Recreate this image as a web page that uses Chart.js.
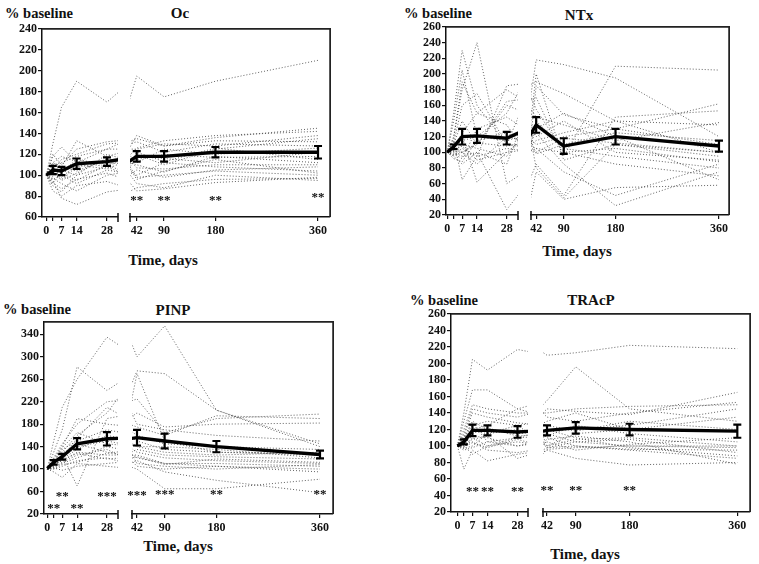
<!DOCTYPE html>
<html>
<head>
<meta charset="utf-8">
<script src="https://cdn.jsdelivr.net/npm/chart.js@4.4.1/dist/chart.umd.min.js"></script>
<style>
  html, body { margin: 0; padding: 0; background: #fff; }
  #page { position: relative; width: 759px; height: 564px; overflow: hidden;
          font-family: "Liberation Serif", "Times New Roman", serif; font-weight: bold; color: #111; }
  #page canvas { position: absolute; }
  .lbl { position: absolute; white-space: nowrap; line-height: 16px; transform: translate(-50%, -50%); }
  .ylab { font-size: 14.5px; }
  .ttl { font-size: 15px; }
  .xlab { font-size: 15px; }
  .frame { position: absolute; box-sizing: border-box; border-top: 1.5px solid #222;
           border-right: 1.5px solid #222; pointer-events: none; }
</style>
</head>
<body>
<div id="page">
  <div class="lbl ylab" style="left:39px;top:13px">% baseline</div>
  <div class="lbl ttl" style="left:180px;top:13px">Oc</div>
  <div class="lbl xlab" style="left:163px;top:260px">Time, days</div>

  <div class="lbl ylab" style="left:438px;top:13px">% baseline</div>
  <div class="lbl ttl" style="left:579px;top:15px">NTx</div>
  <div class="lbl xlab" style="left:577px;top:251px">Time, days</div>

  <div class="lbl ylab" style="left:37px;top:309px">% baseline</div>
  <div class="lbl ttl" style="left:173px;top:310px">PINP</div>
  <div class="lbl xlab" style="left:178px;top:546px">Time, days</div>

  <div class="lbl ylab" style="left:444px;top:300px">% baseline</div>
  <div class="lbl ttl" style="left:591px;top:300px">TRAcP</div>
  <div class="lbl xlab" style="left:585px;top:554px">Time, days</div>
</div>
<script>
// sampling days (x), shared by every panel
const days = [0, 3, 7, 14, 28, 42, 90, 180, 360];
const leftTicks = [0, 3, 7, 14, 28];
const leftTickLabels = ["0", "", "7", "14", "28"];
const rightTicks = [42, 90, 180, 360];

// ---- Oc ----
const ocYTicks = [60, 80, 100, 120, 140, 160, 180, 200, 220, 240];
const ocMean = [100, 105, 104, 111, 113, 118, 118, 122, 122];
const ocSem = [0, 4, 4, 5, 4, 5, 5, 5, 6];
const ocSubjects = [
    [100, 130, 165, 190, 170, 195, 175, 190, 210],
    [100, 118, 127, 112, 125, 138, 128, 136, 145],
    [100, 112, 108, 133, 118, 126, 133, 138, 142],
    [100, 95, 78, 72, 84, 88, 92, 96, 97],
    [100, 108, 102, 95, 110, 120, 110, 125, 135],
    [100, 90, 84, 100, 108, 96, 104, 115, 102],
    [100, 105, 115, 120, 130, 132, 122, 130, 128],
    [100, 102, 96, 108, 112, 110, 103, 118, 112],
    [100, 97, 92, 85, 100, 105, 98, 105, 108],
    [100, 110, 112, 118, 125, 125, 130, 128, 138],
    [100, 103, 108, 104, 115, 115, 120, 117, 118],
    [100, 96, 100, 92, 105, 100, 112, 108, 104],
    [100, 120, 110, 125, 132, 135, 128, 133, 132],
    [100, 93, 87, 96, 102, 92, 88, 100, 95],
    [100, 106, 98, 110, 106, 118, 116, 112, 122],
    [100, 99, 105, 100, 120, 112, 125, 120, 126],
    [100, 85, 80, 90, 94, 85, 87, 93, 98],
    [100, 112, 118, 113, 108, 122, 113, 126, 115],
    [100, 104, 95, 102, 116, 107, 106, 110, 110],
    [100, 92, 103, 115, 110, 98, 100, 104, 100]
];
const ocStarDays = [42, 90, 180, 360];
const ocStarMarks = ["**", "**", "**", "**"];
const ocStarLevels = [79, 79, 79, 81];

// ---- NTx ----
const ntxYTicks = [20, 40, 60, 80, 100, 120, 140, 160, 180, 200, 220, 240, 260];
const ntxMean = [100, 107, 120, 121, 118, 135, 108, 120, 108];
const ntxSem = [0, 3, 10, 9, 8, 10, 10, 10, 7];
const ntxSubjects = [
    [100, 150, 230, 160, 110, 200, 90, 110, 100],
    [100, 140, 205, 120, 150, 218, 212, 195, 120],
    [100, 115, 65, 95, 185, 190, 175, 140, 135],
    [100, 120, 180, 240, 60, 85, 45, 145, 153],
    [100, 105, 120, 62, 100, 130, 150, 120, 65],
    [100, 95, 85, 100, 27, 75, 40, 55, 58],
    [100, 110, 140, 110, 165, 170, 95, 210, 205],
    [100, 108, 100, 85, 120, 110, 120, 130, 110],
    [100, 102, 110, 105, 95, 140, 105, 95, 80],
    [100, 98, 92, 130, 145, 120, 140, 100, 90],
    [100, 104, 125, 150, 180, 155, 100, 85, 70],
    [100, 97, 105, 95, 105, 100, 118, 112, 100],
    [100, 112, 160, 175, 110, 105, 75, 45, 85],
    [100, 92, 88, 115, 125, 98, 110, 125, 115],
    [100, 100, 95, 100, 85, 185, 148, 130, 162],
    [100, 106, 115, 120, 115, 125, 85, 32, 75],
    [100, 101, 100, 110, 160, 145, 135, 115, 138],
    [100, 118, 190, 150, 135, 80, 42, 110, 95],
    [100, 103, 108, 90, 100, 105, 100, 105, 88],
    [100, 96, 100, 112, 108, 115, 125, 140, 100]
];
const ntxStarDays = [];
const ntxStarMarks = [];
const ntxStarLevels = [];

// ---- PINP ----
const pinpYTicks = [20, 60, 100, 140, 180, 220, 260, 300, 340];
const pinpMean = [101, 112, 122, 145, 154, 156, 150, 140, 126];
const pinpSem = [0, 4, 5, 10, 12, 14, 13, 10, 7];
const pinpSubjects = [
    [100, 150, 210, 260, 335, 300, 355, 205, 140],
    [100, 130, 170, 282, 240, 275, 270, 205, 145],
    [100, 120, 145, 180, 220, 225, 165, 190, 198],
    [100, 110, 125, 70, 190, 200, 175, 180, 182],
    [100, 95, 85, 110, 105, 100, 65, 65, 82],
    [100, 115, 130, 160, 200, 270, 150, 130, 125],
    [100, 105, 120, 140, 150, 140, 130, 125, 130],
    [100, 108, 115, 130, 125, 125, 110, 105, 100],
    [100, 112, 135, 150, 170, 160, 145, 140, 135],
    [100, 103, 110, 120, 140, 130, 120, 115, 110],
    [100, 118, 140, 190, 180, 175, 160, 195, 190],
    [100, 100, 105, 115, 120, 105, 100, 105, 95],
    [100, 106, 118, 135, 160, 150, 135, 130, 128],
    [100, 110, 128, 145, 130, 120, 110, 110, 105],
    [100, 102, 98, 105, 110, 115, 95, 80, 58],
    [100, 114, 138, 165, 145, 140, 140, 135, 120],
    [100, 104, 112, 125, 135, 110, 105, 100, 108],
    [100, 109, 122, 155, 210, 180, 170, 160, 150],
    [100, 107, 116, 128, 118, 122, 108, 118, 112],
    [100, 101, 108, 112, 128, 135, 125, 122, 118]
];
const pinpStarDays = [3, 14, 7, 28, 42, 90, 180, 360];
const pinpStarMarks = ["**", "**", "**", "***", "***", "***", "**", "**"];
const pinpStarLevels = [34, 34, 56, 56, 58, 59, 59, 59];

// ---- TRAcP ----
const tracpYTicks = [20, 40, 60, 80, 100, 120, 140, 160, 180, 200, 220, 240, 260];
const tracpMean = [100, 105, 119, 119, 117, 119, 122, 120, 118];
const tracpSem = [0, 3, 7, 6, 7, 6, 7, 7, 8];
const tracpSubjects = [
    [100, 140, 205, 192, 217, 210, 213, 222, 218],
    [100, 130, 168, 168, 145, 155, 196, 145, 130],
    [100, 72, 95, 82, 90, 95, 85, 77, 80],
    [100, 115, 145, 140, 135, 145, 142, 138, 165],
    [100, 105, 120, 125, 145, 135, 130, 140, 153],
    [100, 98, 110, 100, 105, 100, 108, 110, 100],
    [100, 110, 130, 120, 115, 118, 120, 125, 145],
    [100, 102, 105, 95, 92, 98, 105, 100, 98],
    [100, 108, 125, 130, 125, 130, 140, 120, 135],
    [100, 95, 98, 105, 110, 120, 110, 98, 88],
    [100, 112, 140, 135, 128, 125, 118, 130, 120],
    [100, 104, 112, 110, 100, 105, 95, 102, 110],
    [100, 100, 90, 100, 110, 112, 125, 115, 105],
    [100, 106, 118, 115, 120, 110, 100, 95, 85],
    [100, 103, 108, 112, 85, 96, 98, 100, 100],
    [100, 120, 150, 145, 140, 140, 145, 148, 150],
    [100, 97, 100, 115, 125, 100, 115, 120, 118],
    [100, 110, 128, 105, 100, 108, 112, 105, 78],
    [100, 101, 115, 122, 112, 115, 105, 108, 92],
    [100, 99, 104, 98, 108, 98, 100, 96, 95]
];
const tracpStarDays = [7, 14, 28, 42, 90, 180];
const tracpStarMarks = ["**", "**", "**", "**", "**", "**"];
const tracpStarLevels = [48, 48, 48, 50, 50, 49];

// layout of each panel: plot area in page pixels, where the x axis breaks, axis ranges
const panels = [
    { area: [42, 29, 330, 217], split: [118, 130], pr: 12, yRange: [60, 240], yTicks: ocYTicks,
      left: [-2, 33.1], right: [30.2, 381],
      mean: ocMean, sem: ocSem, subjects: ocSubjects,
      stars: [ocStarDays, ocStarMarks, ocStarLevels] },
    { area: [446, 27, 729, 215], split: [518, 531], pr: 12, yRange: [20, 260], yTicks: ntxYTicks,
      left: [-0.6, 33.3], right: [33, 377.4],
      mean: ntxMean, sem: ntxSem, subjects: ntxSubjects,
      stars: [ntxStarDays, ntxStarMarks, ntxStarLevels] },
    { area: [44, 322, 333, 514], split: [118, 132], pr: 12, yRange: [20, 362], yTicks: pinpYTicks,
      left: [-1.55, 33.2], right: [33.3, 382.6],
      mean: pinpMean, sem: pinpSem, subjects: pinpSubjects,
      stars: [pinpStarDays, pinpStarMarks, pinpStarLevels] },
    { area: [451, 314, 750, 512], split: [528, 543], pr: 8, yRange: [20, 260], yTicks: tracpYTicks,
      left: [-3, 32.9], right: [35.3, 381.2],
      mean: tracpMean, sem: tracpSem, subjects: tracpSubjects,
      stars: [tracpStarDays, tracpStarMarks, tracpStarLevels] }
];

const Y_AXIS_W = 38;
const X_AXIS_H = 26;
const PAD_TOP = 12;
const tickFont = { family: "Liberation Serif", size: 12, weight: "bold" };

function series(vals) {
    return days.map((d, i) => ({ x: d, y: vals[i] }));
}

// each line is drawn twice, once on each half of the broken x axis
function buildDatasets(p) {
    const sets = [];
    ["xa", "xb"].forEach(ax => sets.push({
        data: series(p.mean), xAxisID: ax, yAxisID: "y",
        borderColor: "#000", borderWidth: 3.4
    }));
    p.subjects.forEach(v => {
        ["xa", "xb"].forEach(ax => sets.push({
            data: series(v), xAxisID: ax, yAxisID: "y",
            borderColor: "rgba(60,60,60,0.8)", borderWidth: 1, borderDash: [1, 2]
        }));
    });
    return sets;
}

function xAxis(range, ticks, labels, weight, stackWeight) {
    return {
        type: "linear", axis: "x", position: "bottom", stack: "xs", weight: weight,
        stackWeight: stackWeight, min: range[0], max: range[1],
        afterBuildTicks: s => { s.ticks = ticks.map(v => ({ value: v })); },
        afterFit: s => { s.height = X_AXIS_H; },
        grid: { drawOnChartArea: false, drawTicks: true, tickLength: 4, color: "#111", lineWidth: 1.2 },
        border: { display: true, color: "#111", width: 1.5 },
        ticks: {
            font: tickFont, color: "#111", padding: 3, autoSkip: false, maxRotation: 0, minRotation: 0,
            callback: (v, i) => labels[i]
        }
    };
}

function extras(p) {
    return {
        id: "panelExtras",
        beforeDatasetDraw(chart, args) {
            const xs = args.meta.xScale, a = chart.chartArea, ctx = chart.ctx;
            ctx.save();
            ctx.beginPath();
            ctx.rect(xs.left, a.top - 3, xs.right - xs.left, a.bottom - a.top + 3);
            ctx.clip();
        },
        afterDatasetDraw(chart) {
            chart.ctx.restore();
        },
        afterDraw(chart) {
            const ctx = chart.ctx;
            const a = chart.chartArea;
            const { xa, xb, y } = chart.scales;
            const pick = d => (d <= xa.max ? xa : xb);
            ctx.save();
            ctx.setLineDash([]);
            // frame on top and right
            ctx.fillStyle = "#222";
            ctx.fillRect(a.left, a.top - 0.75, a.right - a.left, 1.5);
            ctx.fillRect(a.right - 0.75, a.top, 1.5, a.bottom - a.top);
            // axis break marks
            ctx.strokeStyle = "#111";
            ctx.lineWidth = 1.5;
            [xa.right, xb.left].forEach(px => {
                ctx.beginPath();
                ctx.moveTo(px, a.bottom - 4);
                ctx.lineTo(px, a.bottom + 5);
                ctx.stroke();
            });
            // SEM error bars on the mean
            ctx.strokeStyle = "#000";
            ctx.lineWidth = 2.2;
            days.forEach((d, i) => {
                if (!p.sem[i]) return;
                const px = pick(d).getPixelForValue(d);
                const t = y.getPixelForValue(p.mean[i] + p.sem[i]);
                const b = y.getPixelForValue(p.mean[i] - p.sem[i]);
                ctx.beginPath();
                ctx.moveTo(px, t); ctx.lineTo(px, b);
                ctx.moveTo(px - 4, t); ctx.lineTo(px + 4, t);
                ctx.moveTo(px - 4, b); ctx.lineTo(px + 4, b);
                ctx.stroke();
            });
            // significance marks
            const [sd, sm, sl] = p.stars;
            ctx.fillStyle = "#111";
            ctx.font = 'bold 13px "Liberation Serif"';
            ctx.textAlign = "center";
            ctx.textBaseline = "middle";
            sd.forEach((d, i) => {
                const px = pick(d).getPixelForValue(d);
                const py = y.getPixelForValue(sl[i]);
                ctx.fillText(sm[i], px, py + 3);
            });
            ctx.restore();
        }
    };
}

const page = document.getElementById("page");

panels.forEach(p => {
    const [l, t, r, b] = p.area;
    const canvas = document.createElement("canvas");
    const cx = l - Y_AXIS_W, cy = t - PAD_TOP;
    canvas.width = r + p.pr - cx;
    canvas.height = b + X_AXIS_H - cy;
    canvas.style.left = cx + "px";
    canvas.style.top = cy + "px";
    canvas.style.width = canvas.width + "px";
    canvas.style.height = canvas.height + "px";
    page.appendChild(canvas);

    // top and right edge of the plot frame
    const frame = document.createElement("div");
    frame.className = "frame";
    frame.style.left = l + "px";
    frame.style.top = (t - 0.75) + "px";
    frame.style.width = (r - l + 0.75) + "px";
    frame.style.height = (b - t + 0.75) + "px";
    page.appendChild(frame);

    // pixel widths of the two axis pieces and the gap between them
    const wLeft = p.split[0] - l, wGap = p.split[1] - p.split[0], wRight = r - p.split[1];

    new Chart(canvas.getContext("2d"), {
        type: "line",
        data: { datasets: buildDatasets(p) },
        plugins: [extras(p)],
        options: {
            responsive: false,
            animation: false,
            events: [],
            layout: { padding: { top: PAD_TOP, right: p.pr, left: 0, bottom: 0 } },
            elements: { point: { radius: 0 }, line: { tension: 0 } },
            plugins: { legend: { display: false }, tooltip: { enabled: false } },
            scales: {
                xa: xAxis(p.left, leftTicks, leftTickLabels, 1, wLeft),
                xgap: { type: "linear", axis: "x", position: "bottom", stack: "xs", weight: 2,
                        stackWeight: wGap, display: false, min: 0, max: 1 },
                xb: xAxis(p.right, rightTicks, rightTicks.map(String), 3, wRight),
                y: {
                    type: "linear", position: "left", min: p.yRange[0], max: p.yRange[1],
                    afterBuildTicks: s => { s.ticks = p.yTicks.map(v => ({ value: v })); },
                    afterFit: s => { s.width = Y_AXIS_W; },
                    grid: { drawOnChartArea: false, drawTicks: true, tickLength: 4, color: "#111", lineWidth: 1.2 },
                    border: { display: true, color: "#111", width: 1.5 },
                    ticks: { font: tickFont, color: "#111", padding: 1, autoSkip: false,
                             callback: v => String(v) }
                }
            }
        }
    });
});
</script>
</body>
</html>
